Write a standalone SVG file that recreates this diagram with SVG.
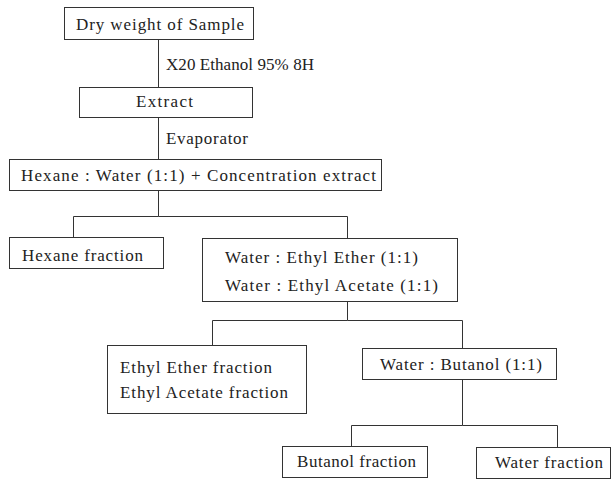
<svg xmlns="http://www.w3.org/2000/svg" width="612" height="479" viewBox="0 0 612 479">
<style>
.box{fill:#fff;stroke:#333;stroke-width:1}
.t{font-family:'Liberation Serif','Times New Roman',serif;font-size:17px;fill:#222}
.c{fill:none;stroke:#333;stroke-width:1}
</style>
<rect width="612" height="479" fill="#fff"/>
<g id="connectors">
<path class="c" d="M158.5 39V87"/>
<path class="c" d="M158.5 117V159"/>
<path class="c" d="M158.5 190V216.5H73.5V237"/>
<path class="c" d="M158.5 216.5H347.5V238"/>
<path class="c" d="M347.5 301V320.5H212.5V345"/>
<path class="c" d="M347.5 320.5H462.5V348"/>
<path class="c" d="M462.5 379V425.5H351.5V446"/>
<path class="c" d="M462.5 425.5H557.5V447"/>
</g>
<g id="label-ethanol"><text class="t" x="166" y="70" textLength="148" lengthAdjust="spacing">X20 Ethanol 95% 8H</text></g>
<g id="label-evaporator"><text class="t" x="166" y="144" textLength="82" lengthAdjust="spacing">Evaporator</text></g>
<g id="n1"><rect class="box" x="64.5" y="7.5" width="189" height="32"/><text class="t" x="76" y="30" textLength="168" lengthAdjust="spacing">Dry weight of Sample</text></g>
<g id="n2"><rect class="box" x="79.5" y="87.5" width="173" height="30"/><text class="t" x="136" y="107" textLength="57" lengthAdjust="spacing">Extract</text></g>
<g id="n3"><rect class="box" x="9.5" y="159.5" width="372" height="31"/><text class="t" x="21" y="181" textLength="355" lengthAdjust="spacing">Hexane : Water (1:1) + Concentration extract</text></g>
<g id="n4"><rect class="box" x="9.5" y="237.5" width="154" height="31"/><text class="t" x="22" y="261" textLength="121" lengthAdjust="spacing">Hexane fraction</text></g>
<g id="n5"><rect class="box" x="202.5" y="238.5" width="255" height="63"/><text class="t" x="225" y="263" textLength="193" lengthAdjust="spacing">Water : Ethyl Ether (1:1)</text><text class="t" x="225" y="291" textLength="213" lengthAdjust="spacing">Water : Ethyl Acetate (1:1)</text></g>
<g id="n6"><rect class="box" x="107.5" y="345.5" width="199" height="68"/><text class="t" x="120" y="373" textLength="152" lengthAdjust="spacing">Ethyl Ether fraction</text><text class="t" x="120" y="398" textLength="168" lengthAdjust="spacing">Ethyl Acetate fraction</text></g>
<g id="n7"><rect class="box" x="362.5" y="348.5" width="194" height="31"/><text class="t" x="380" y="370" textLength="162" lengthAdjust="spacing">Water : Butanol (1:1)</text></g>
<g id="n8"><rect class="box" x="282.5" y="446.5" width="145" height="31"/><text class="t" x="297" y="467" textLength="119" lengthAdjust="spacing">Butanol fraction</text></g>
<g id="n9"><rect class="box" x="476.5" y="447.5" width="134" height="31"/><text class="t" x="495" y="468" textLength="108" lengthAdjust="spacing">Water fraction</text></g>
</svg>
